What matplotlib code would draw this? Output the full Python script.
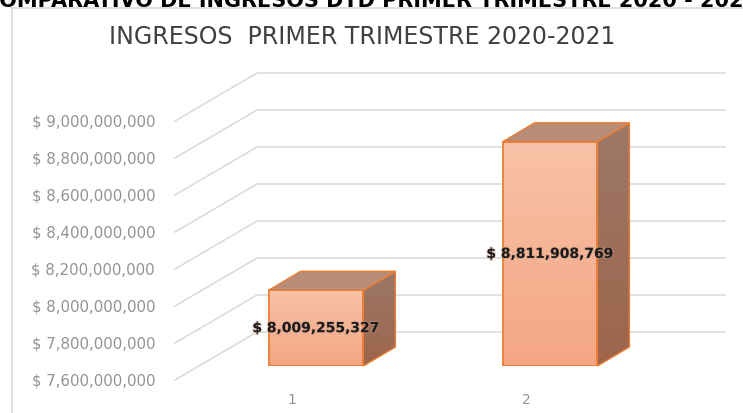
import numpy as np
import matplotlib
matplotlib.use("Agg")
import matplotlib.pyplot as plt
from matplotlib.colors import LinearSegmentedColormap
from matplotlib.patches import Polygon
from matplotlib.lines import Line2D
import matplotlib.patheffects as pe

# ---- data ----
categories = ["1", "2"]
values = [8009255327, 8811908769]
value_labels = ["$ 8,009,255,327", "$ 8,811,908,769"]
y_ticks = [7.6e9, 7.8e9, 8.0e9, 8.2e9, 8.4e9, 8.6e9, 8.8e9, 9.0e9]
y_tick_labels = ["$ 7,600,000,000", "$ 7,800,000,000", "$ 8,000,000,000",
                 "$ 8,200,000,000", "$ 8,400,000,000", "$ 8,600,000,000",
                 "$ 8,800,000,000", "$ 9,000,000,000"]
chart_title = "INGRESOS  PRIMER TRIMESTRE 2020-2021"
page_title = "COMPARATIVO DE INGRESOS DTD PRIMER TRIMESTRE 2020 - 2021"

FONT = ["DejaVu Sans"]
plt.rcParams["font.family"] = FONT

W, H = 743, 414
fig = plt.figure(figsize=(W / 100, H / 100), dpi=100)
fig.patch.set_facecolor("white")

# axes = front plane of the bars
ax_l, ax_b, ax_w, ax_h = 199, 47, 468, 259
ax = fig.add_axes([ax_l / W, ax_b / H, ax_w / W, ax_h / H])
ax.set_axis_off()
xlim = (0.5, 2.5)
ylim = (y_ticks[0], y_ticks[-1])
ax.set_xlim(*xlim)
ax.set_ylim(*ylim)

PX_X = ax_w / (xlim[1] - xlim[0])
PX_Y = ax_h / (ylim[1] - ylim[0])


def off(dx, dy):
    return dx / PX_X, dy / PX_Y


# planes of the 3D box (pixel offsets relative to bar front plane)
fx, fy = off(-24, -14)   # front (label) plane
bx, by = off(58, 34)     # back wall plane
grid_c = "#D9D9D9"

for v in y_ticks:
    # back wall gridline
    ax.plot([xlim[0] + bx, xlim[1] + bx], [v + by, v + by], color=grid_c,
            lw=1.1, clip_on=False, zorder=1)
    # side wall diagonal
    ax.plot([xlim[0] + fx, xlim[0] + bx], [v + fy, v + by], color=grid_c,
            lw=1.1, clip_on=False, zorder=1)

lx, _ = off(-44, 0)
for v, lab in zip(y_ticks, y_tick_labels):
    ax.text(xlim[0] + lx, v + fy, lab, ha="right", va="center",
            fontsize=10.8, color="#939393", clip_on=False)

xpos = np.arange(1, len(categories) + 1)
_, cy = off(0, -19)
for x, c in zip(xpos, categories):
    ax.text(x + fx, ylim[0] + fy + cy, c, ha="center", va="center",
            fontsize=10, color="#939393")

# bars
base = ylim[0]
bw = 0.405
front_cmap = LinearSegmentedColormap.from_list("f", ["#F4A683", "#F8C2A8"])
side_cmap = LinearSegmentedColormap.from_list("s", ["#9E654B", "#9C7868"])
top_color = "#B98C78"
edge = "#ED7D31"
ddx, ddy = off(32, 19)
grad = np.linspace(0, 1, 256).reshape(-1, 1)

bars = ax.bar(xpos, [v - base for v in values], bottom=base, width=bw,
              facecolor="none", edgecolor=edge, lw=1.3, zorder=5)
for b, v in zip(bars, values):
    x0 = b.get_x()
    x1 = x0 + b.get_width()
    top = v
    im = ax.imshow(grad, extent=(x0, x1, base, top), origin="lower",
                   aspect="auto", cmap=front_cmap, zorder=4)
    im.set_clip_path(b)
    # side face
    side = Polygon([(x1, base), (x1 + ddx, base + ddy), (x1 + ddx, top + ddy),
                    (x1, top)], closed=True, facecolor="none", edgecolor=edge,
                   lw=1.0, zorder=5, clip_on=False)
    ax.add_patch(side)
    im2 = ax.imshow(grad, extent=(x1, x1 + ddx, base, top + ddy), origin="lower",
                    aspect="auto", cmap=side_cmap, zorder=4)
    im2.set_clip_path(side)
    # top face
    topf = Polygon([(x0, top), (x1, top), (x1 + ddx, top + ddy),
                    (x0 + ddx, top + ddy)], closed=True, facecolor=top_color,
                   edgecolor=edge, lw=1.0, zorder=5, clip_on=False)
    ax.add_patch(topf)

ax.set_xlim(*xlim)
ax.set_ylim(*ylim)

for x, v, lab in zip(xpos, values, value_labels):
    ax.text(x, (base + v) / 2, lab, ha="center", va="center", fontsize=10,
            fontweight="bold", color="#1A1A1A", zorder=10,
            path_effects=[pe.withStroke(linewidth=1.5, foreground="#C89A85", alpha=0.5)])

# chart area border
fig.add_artist(Line2D([12 / W, 12 / W], [0, 1 - 9 / H], color="#D9D9D9", lw=1.2))
fig.add_artist(Line2D([12 / W, 1], [1 - 9 / H, 1 - 9 / H], color="#D9D9D9", lw=1.2))

fig.text(362 / W, 1 - 37 / H, chart_title, ha="center", va="center",
         fontsize=17, color="#404040")
fig.text(371 / W, 1 - 7 / H, page_title, ha="center", va="baseline",
         fontsize=15, fontweight="bold", color="#000000")

fig.savefig("out.png", dpi=100, facecolor="white")
